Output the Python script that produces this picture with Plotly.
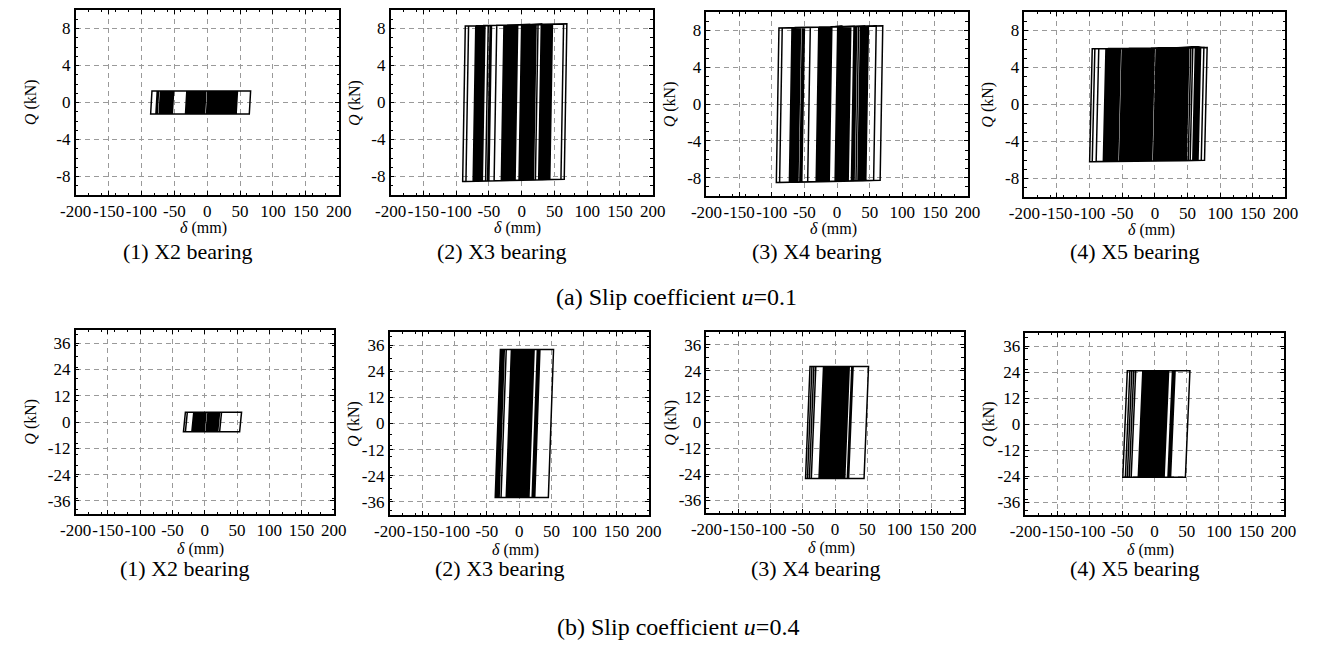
import plotly.graph_objects as go

W, H = 1320, 647

# ---------------- data ----------------
bearings = ["X2", "X3", "X4", "X5"]
captions = ["(1) X2 bearing", "(2) X3 bearing", "(3) X4 bearing", "(4) X5 bearing"]
x_ticks = [-200, -150, -100, -50, 0, 50, 100, 150, 200]
y_ticks_a = [-8, -4, 0, 4, 8]
y_ticks_b = [-36, -24, -12, 0, 12, 24, 36]

# slip force level (kN) of each bearing
Q_a = [1.25, 8.4, 8.4, 6.1]        # u = 0.1
Q_b = [4.5, 34.0, 26.0, 24.6]      # u = 0.4

# displacement reversal points (mm), alternating max / min
rev_a_X2 = [10, -20, 25, -30, 40, -55, 66, -86, 46, -73, 44, -71, 43, -69, 41, -67, 39, -65,
            38, -63, 36, -61, 34, -59, 32, -57, 30, -55, 28, -53, 27, -33, 25, -31, 23, -29,
            21, -27, 19, -25, 17, -23, 15, -21, 13, -19, 11, -17, 9, -15, 7, -13, 5, -11,
            3, -9, 1, -7, 18, -10, 22, -32, 26, -26, 31, -16, 35, -4, 24, -14, 16, -24,
            12, -18, 6, -28, 2, -6, 42, -76, 45, -78]
rev_a_X3 = [20, -30, 47, -72, 69, -90, 64, -85, 45, -70, 40, -68, 35, -66, 30, -62, 44, -60,
            38, -55, 33, -52, 42, -50, 25, -42, 20, -30, 18, -28, 16, -26, 14, -24, 12, -22,
            10, -20, 8, -18, 6, -16, 4, -14, 2, -12, 0, -10, 19, -29, 17, -27, 15, -25,
            13, -23, 11, -21, 9, -19, 7, -17, 5, -15, 3, -13, 1, -11, 22, -31, 46, -71,
            43, -69, 37, -67, 31, -64, 34, -73, 41, -74]
rev_a_X4 = [21, -32, 48, -72, 70, -93, 60, -88, 46, -70, 42, -66, 38, -63, 30, -60, 26, -57,
            44, -54, 36, -45, 21, -32, 19, -30, 17, -28, 15, -26, 13, -24, 11, -22, 9, -20,
            7, -18, 5, -16, 3, -14, 1, -12, 20, -31, 18, -29, 16, -27, 14, -25, 12, -23,
            10, -21, 8, -19, 6, -17, 4, -15, 2, -13, 47, -71, 28, -55, 40, -68, 33, -65,
            45, -73, 29, -61]
rev_a_X5 = [30, -40, 68, -79, 80, -100, 75, -96, 66, -77, 62, -74, 58, -70, 55, -66, 52, -62,
            50, -59, 48, -57, 46, -47, 44, -45, 42, -43, 40, -41, 38, -39, 36, -37, 34, -35,
            32, -33, 28, -31, 26, -29, 24, -27, 22, -25, 20, -23, 18, -21, 16, -19, 14, -17,
            12, -15, 10, -13, 8, -11, 6, -9, 4, -7, 2, -5, 45, -44, 39, -36, 33, -30,
            27, -24, 21, -18, 15, -12, 9, -6, 64, -72, 70, -90, 47, -78, 43, -75, 37, -68,
            31, -64, 25, -60, 19, -54, 13, -50, 7, -49, 3, -52]

rev_b_X2 = [10, -15, 23, -20, 57, -33, 26, -30, 22, -19, 20, -18, 18, -16, 16, -14, 14, -12,
            12, -10, 10, -8, 8, -6, 6, -4, 21, -17, 19, -13, 17, -11, 15, -9, 13, -7,
            11, -5, 9, -3, 7, -2, 5, -1]
rev_b_X3 = [20, -14, 53, -37, 32, -35, 30, -33, 28, -31, 22, -28, 23, -20, 22, -18, 20, -16,
            18, -14, 16, -12, 14, -10, 12, -8, 10, -6, 8, -4, 7, -3, 9, -5, 11, -7,
            13, -9, 15, -11, 17, -13, 19, -15, 21, -17, 23, -19]
rev_b_X4 = [15, -20, 52, -46, 27, -43, 26, -40, 28, -37, 22, -25, 21, -24, 20, -22, 18, -20,
            16, -18, 14, -16, 12, -14, 10, -12, 8, -10, 6, -8, 4, -6, 2, -6, 3, -7,
            5, -9, 7, -11, 9, -13, 11, -15, 13, -17, 15, -19, 17, -21, 19, -23, 21, -25]
rev_b_X5 = [15, -20, 55, -49, 30, -45, 28, -42, 32, -39, 31, -36, 22, -25, 21, -24, 20, -22,
            18, -20, 16, -18, 14, -16, 12, -14, 10, -12, 8, -10, 6, -8, 4, -6, 3, -7,
            5, -9, 7, -11, 9, -13, 11, -15, 13, -17, 15, -19, 17, -21, 19, -23, 21, -25]

rev_a = [rev_a_X2, rev_a_X3, rev_a_X4, rev_a_X5]
rev_b = [rev_b_X2, rev_b_X3, rev_b_X4, rev_b_X5]

# ---------------- style / model parameters ----------------
elastic_a = [2, 4, 4, 4]     # mm of displacement for force reversal
elastic_b = [3, 8, 7, 7]
harden_a = [0.0, 0.0015, 0.0015, 0.0008]
harden_b = [0.0, 0.0, 0.0, 0.0]

# plot areas in pixels (x0, x1, y0, y1)
boxes_a = [(61, 330, 10, 195), (383, 651, 10, 195), (706, 973, 12, 196), (1031, 1298, 12, 197)]
boxes_b = [(61, 325, 330, 514), (382, 647, 332, 515), (706, 969, 332, 513), (1032, 1296, 333, 515)]

SERIF = "Liberation Serif"


def path_from_reversals(rev, Q, d, k):
    xs, ys = [0.0, d / 2.0], [0.0, Q + k * d / 2.0]
    for i, r in enumerate(rev):
        if i % 2 == 0:  # maximum: slide right, then drop force
            xs += [r, r - d]
            ys += [Q + k * r, -Q + k * (r - d)]
        else:           # minimum: slide left, then raise force
            xs += [r, r + d]
            ys += [-Q + k * r, Q + k * (r + d)]
    return xs, ys


fig = go.Figure()
annotations = []


def px_x(x):
    return x / W


def px_y(y):
    return 1 - y / H


panels = []
for row, (boxes, Qs, revs, els, hs, yt, yr) in enumerate([
        (boxes_a, Q_a, rev_a, elastic_a, harden_a, y_ticks_a, [-10, 10]),
        (boxes_b, Q_b, rev_b, elastic_b, harden_b, y_ticks_b, [-42, 42])]):
    for j in range(4):
        panels.append((row, j, boxes[j], Qs[j], revs[j], els[j], hs[j], yt, yr))

for n, (row, j, box, Q, rev, d, k, yt, yr) in enumerate(panels):
    idx = n + 1
    xa = "x" if idx == 1 else f"x{idx}"
    ya = "y" if idx == 1 else f"y{idx}"
    xs, ys = path_from_reversals(rev, Q, d, k)
    fig.add_trace(go.Scatter(x=xs, y=ys, mode="lines", xaxis=xa, yaxis=ya,
                             line=dict(color="black", width=1.5), showlegend=False,
                             hoverinfo="skip"))
    x0, x1, y0, y1 = box
    common = dict(showline=True, linecolor="black", linewidth=1.5, mirror="allticks",
                  ticks="inside", ticklen=4, tickcolor="black", showgrid=True,
                  gridcolor="#9a9a9a", griddash="5px,4px", gridwidth=1, zeroline=False,
                  tickfont=dict(family=SERIF, size=17, color="black"),
                  minor=dict(ticks="inside", ticklen=2.5, tickcolor="black", showgrid=False))
    fig.layout[f"xaxis{'' if idx == 1 else idx}"] = dict(
        common, domain=[px_x(x0), px_x(x1)], anchor=ya, range=[-200, 200], tickangle=0,
        tickmode="array", tickvals=x_ticks, ticktext=[str(v) for v in x_ticks])
    fig.layout[f"yaxis{'' if idx == 1 else idx}"] = dict(
        common, domain=[px_y(y1), px_y(y0)], anchor=xa, range=yr, tickangle=0,
        tickmode="array", tickvals=yt, ticktext=[str(v) for v in yt])

    cx = (x0 + x1) / 2
    # x-axis title
    title_y = y1 + (33 if row == 0 else 35)
    annotations.append(dict(text="<i>δ</i> (mm)", x=px_x(cx - 4), y=px_y(title_y),
                            xref="paper", yref="paper", showarrow=False,
                            font=dict(family=SERIF, size=16, color="black"),
                            xanchor="center", yanchor="middle"))
    # y-axis title
    ytx = 15 if j == 0 else x0 - 37
    annotations.append(dict(text="<i>Q</i> (kN)", x=px_x(ytx), y=px_y((y0 + y1) / 2),
                            xref="paper", yref="paper", showarrow=False, textangle=-90,
                            font=dict(family=SERIF, size=16, color="black"),
                            xanchor="center", yanchor="middle"))
    # caption
    cap_y = 251 if row == 0 else 568
    annotations.append(dict(text=captions[j], x=px_x(cx - 20), y=px_y(cap_y),
                            xref="paper", yref="paper", showarrow=False,
                            font=dict(family=SERIF, size=22, color="black"),
                            xanchor="center", yanchor="middle"))

annotations.append(dict(text="(a) Slip coefficient <i>u</i>=0.1", x=px_x(675), y=px_y(297),
                        xref="paper", yref="paper", showarrow=False,
                        font=dict(family=SERIF, size=24, color="black"),
                        xanchor="center", yanchor="middle"))
annotations.append(dict(text="(b) Slip coefficient <i>u</i>=0.4", x=px_x(677), y=px_y(627),
                        xref="paper", yref="paper", showarrow=False,
                        font=dict(family=SERIF, size=24, color="black"),
                        xanchor="center", yanchor="middle"))

fig.update_layout(width=W, height=H, autosize=False,
                  margin=dict(l=0, r=0, t=0, b=0),
                  paper_bgcolor="white", plot_bgcolor="white",
                  font=dict(family=SERIF, color="black"),
                  annotations=annotations)

fig.write_html("out.html")
